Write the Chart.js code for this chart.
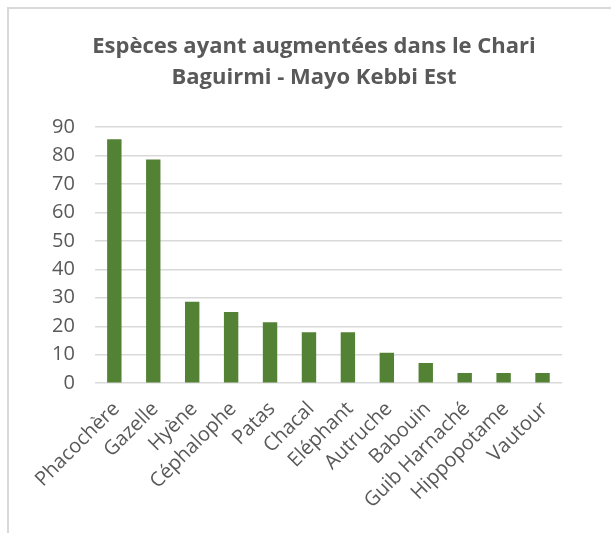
<!DOCTYPE html>
<html>
<head>
<meta charset="utf-8">
<script src="https://cdn.jsdelivr.net/npm/chart.js@4"></script>
<style>
  body { margin: 0; background: #fff; }
  #wrap { position: relative; width: 611px; height: 533px; }
  #frame { position: absolute; left: 7px; top: 7px; right: -5px; bottom: -5px;
           border-top: 2px solid #d9d9d9; border-left: 2px solid #d9d9d9; pointer-events: none; }
</style>
</head>
<body>
<div id="wrap">
  <canvas id="especes" width="611" height="533"></canvas>
  <div id="frame"></div>
</div>
<script>
// Espèces ayant augmentées (%)
var especes = ['Phacochère', 'Gazelle', 'Hyène', 'Céphalophe', 'Patas', 'Chacal', 'Eléphant',
               'Autruche', 'Babouin', 'Guib Harnaché', 'Hippopotame', 'Vautour'];
var pourcentages = [85.7, 78.6, 28.6, 25, 21.4, 17.9, 17.9, 10.7, 7.1, 3.6, 3.6, 3.6];
var titre = ['Espèces ayant augmentées dans le Chari', 'Baguirmi - Mayo Kebbi Est'];

var gris = '#595959';

// titre centré sur le cadre (comme dans Excel), pas sur la zone du graphique
var titrePlugin = {
    id: 'titreExcel',
    afterDraw: function (chart) {
        var ctx = chart.ctx;
        ctx.save();
        ctx.fillStyle = gris;
        ctx.font = 'bold 22px "Open Sans"';
        ctx.textAlign = 'center';
        ctx.textBaseline = 'middle';
        titre.forEach(function (ligne, i) {
            ctx.fillText(ligne, 314, 47 + i * 31);
        });
        ctx.restore();
    }
};

document.addEventListener('DOMContentLoaded', function () {
    new Chart(document.getElementById('especes'), {
        type: 'bar',
        data: {
            labels: especes,
            datasets: [{
                data: pourcentages,
                backgroundColor: '#548235',
                barPercentage: 0.37,
                categoryPercentage: 1
            }]
        },
        plugins: [titrePlugin],
        options: {
            responsive: false,
            animation: false,
            layout: { padding: { left: 32, right: 49, top: 127, bottom: 14 } },
            plugins: {
                legend: { display: false },
                tooltip: { enabled: false },
                title: { display: false }
            },
            scales: {
                x: {
                    grid: { display: false },
                    border: { display: false },
                    ticks: {
                        color: gris,
                        font: { family: 'Open Sans', size: 20 },
                        minRotation: 45,
                        maxRotation: 45,
                        autoSkip: false,
                        padding: 6,
                        labelOffset: 2
                    }
                },
                y: {
                    min: 0,
                    max: 90,
                    ticks: {
                        stepSize: 10,
                        color: gris,
                        font: { family: 'Open Sans', size: 20 },
                        padding: 20
                    },
                    grid: { color: '#d9d9d9', lineWidth: 1.5, drawTicks: false },
                    border: { display: false }
                }
            }
        }
    });
});
</script>
</body>
</html>
